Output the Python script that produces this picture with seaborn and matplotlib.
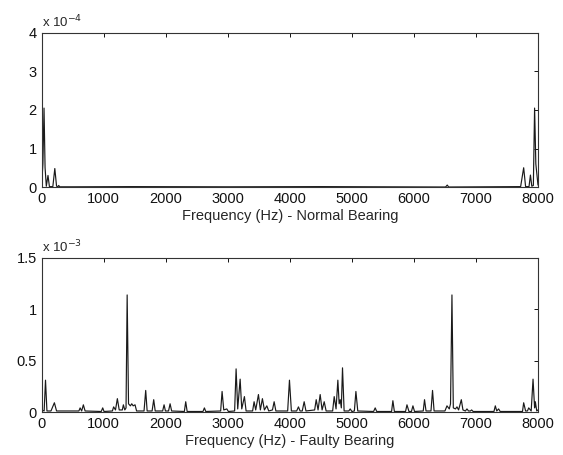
import numpy as np
import pandas as pd
import matplotlib
matplotlib.use('Agg')
import matplotlib.pyplot as plt
import seaborn as sns

# Normal bearing spectrum, amplitude in units of 1e-4
normal_freq = [0, 20, 38, 55, 75, 102, 125, 180, 212, 240, 262, 275, 290,
               500, 1450, 3000, 4500, 6510, 6537, 6560, 7720, 7769, 7800,
               7855, 7878, 7900, 7925, 7945, 7965, 8000]
normal_amp = [0.05, 0.6, 2.05, 0.5, 0.02, 0.3, 0.01, 0.01, 0.48, 0.02,
              0.01, 0.04, 0.005, 0.005, 0.01, 0.005, 0.01, 0.0, 0.05, 0.0,
              0.01, 0.5, 0.01, 0.01, 0.31, 0.02, 0.04, 2.05, 0.6, 0.05]

# Faulty bearing spectrum, amplitude in units of 1e-3
faulty_freq = [0, 40, 62, 85, 150, 205, 240, 600, 620, 645, 672, 700, 960,
               984, 1005, 1140, 1160, 1190, 1220, 1250, 1300, 1317, 1340,
               1360, 1378, 1400, 1430, 1452, 1475, 1505, 1530, 1650, 1677,
               1700, 1780, 1806, 1830, 1950, 1973, 1995, 2045, 2070, 2095,
               2300, 2322, 2345, 2600, 2623, 2645, 2885, 2908, 2935, 2984,
               3010, 3110, 3134, 3160, 3199, 3225, 3268, 3295, 3400, 3424,
               3450, 3494, 3525, 3558, 3590, 3629, 3660, 3720, 3747, 3775,
               3965, 3994, 4025, 4110, 4139, 4165, 4200, 4231, 4260, 4400,
               4425, 4455, 4489, 4520, 4554, 4585, 4690, 4715, 4745, 4774,
               4795, 4812, 4830, 4849, 4875, 4950, 4973, 5000, 5040, 5065,
               5095, 5350, 5376, 5400, 5640, 5661, 5685, 5865, 5888, 5920,
               5960, 5984, 6010, 6150, 6171, 6195, 6275, 6300, 6325, 6500,
               6533, 6570, 6590, 6613, 6635, 6670, 6694, 6720, 6764, 6790,
               6830, 6855, 6880, 6910, 6930, 6955, 7290, 7312, 7335, 7365,
               7390, 7750, 7769, 7800, 7830, 7850, 7890, 7920, 7945, 7957,
               7980, 8000]
faulty_amp = [0.02, 0.01, 0.31, 0.01, 0.01, 0.09, 0.01, 0.01, 0.04, 0.01,
              0.07, 0.01, 0.005, 0.04, 0.005, 0.01, 0.05, 0.02, 0.13, 0.02,
              0.02, 0.07, 0.02, 0.04, 1.14, 0.08, 0.06, 0.08, 0.06, 0.07,
              0.01, 0.01, 0.21, 0.01, 0.01, 0.12, 0.01, 0.01, 0.07, 0.01,
              0.01, 0.08, 0.01, 0.005, 0.10, 0.005, 0.005, 0.04, 0.005, 0.01,
              0.20, 0.02, 0.03, 0.005, 0.01, 0.42, 0.03, 0.32, 0.03, 0.15,
              0.01, 0.01, 0.10, 0.02, 0.17, 0.02, 0.13, 0.02, 0.06, 0.01,
              0.02, 0.10, 0.01, 0.01, 0.31, 0.01, 0.01, 0.05, 0.01, 0.01,
              0.10, 0.01, 0.02, 0.12, 0.02, 0.17, 0.02, 0.10, 0.01, 0.01,
              0.15, 0.03, 0.31, 0.08, 0.12, 0.04, 0.43, 0.01, 0.01, 0.03,
              0.005, 0.01, 0.20, 0.01, 0.005, 0.04, 0.005, 0.005, 0.11, 0.005,
              0.005, 0.07, 0.005, 0.005, 0.06, 0.005, 0.01, 0.12, 0.01, 0.01,
              0.21, 0.01, 0.01, 0.06, 0.03, 0.08, 1.14, 0.04, 0.03, 0.05,
              0.02, 0.12, 0.02, 0.01, 0.03, 0.01, 0.01, 0.02, 0.005, 0.005,
              0.06, 0.01, 0.03, 0.005, 0.005, 0.09, 0.01, 0.01, 0.04, 0.01,
              0.32, 0.04, 0.10, 0.01, 0.02]

x_ticks = [0, 1000, 2000, 3000, 4000, 5000, 6000, 7000, 8000]

sns.set_theme(style='white')
plt.rcParams['font.family'] = ['Liberation Sans', 'DejaVu Sans']
plt.rcParams['font.size'] = 10.5

fig = plt.figure(figsize=(5.63, 4.55), dpi=100)
fig.patch.set_facecolor('white')
ax_top = fig.add_axes([0.074, 0.589, 0.8816, 0.3385])
ax_bot = fig.add_axes([0.074, 0.0945, 0.8816, 0.3385])

panels = [
    (ax_top, normal_freq, normal_amp, [0, 1, 2, 3, 4], ['0', '1', '2', '3', '4'],
     (0, 4), r'x 10$^{-4}$', 'Frequency (Hz) - Normal Bearing'),
    (ax_bot, faulty_freq, faulty_amp, [0, 0.5, 1, 1.5], ['0', '0.5', '1', '1.5'],
     (0, 1.5), r'x 10$^{-3}$', 'Frequency (Hz) - Faulty Bearing'),
]

for ax, fx, fy, yt, ytl, ylim, mult, xlabel in panels:
    df = pd.DataFrame({'freq': fx, 'amp': fy})
    sns.lineplot(data=df, x='freq', y='amp', ax=ax, color='#1a1a1a',
                 linewidth=0.85, estimator=None, sort=False)
    ax.set_xlim(0, 8000)
    ax.set_ylim(*ylim)
    ax.set_xticks(x_ticks)
    ax.set_xticklabels([str(t) for t in x_ticks])
    ax.set_yticks(yt)
    ax.set_yticklabels(ytl)
    ax.tick_params(direction='in', length=3, width=0.7, top=True, right=True,
                   labelsize=10.5, colors='#111111', pad=3.5)
    for sp in ax.spines.values():
        sp.set_visible(True)
        sp.set_color('#333333')
        sp.set_linewidth(0.8)
    ax.set_xlabel(xlabel, fontsize=10.5, labelpad=2)
    ax.set_ylabel('')
    ax.text(0.0, 1.015, mult, transform=ax.transAxes, fontsize=9.5,
            ha='left', va='bottom')
    ax.set_facecolor('white')

fig.savefig('out.png', dpi=100, facecolor='white')
